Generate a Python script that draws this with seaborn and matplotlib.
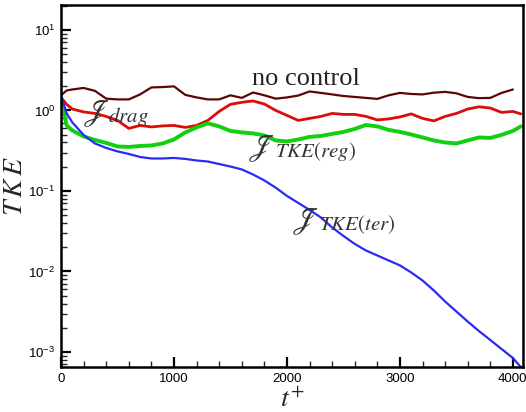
import matplotlib
matplotlib.use("Agg")
import matplotlib.pyplot as plt
import matplotlib.ticker as mticker
import numpy as np
import pandas as pd
import seaborn as sns

# time axis (wall units) for each case
t_nc = [0, 50] + list(range(100, 4001, 100))
t_ctl = [0, 50] + list(range(100, 4001, 100)) + [4070]

no_control = [1.54, 1.77, 1.82, 1.90, 1.75, 1.40, 1.37, 1.37, 1.58, 1.93, 1.95, 1.99,
              1.56, 1.45, 1.37, 1.37, 1.54, 1.43, 1.67, 1.54, 1.40, 1.45, 1.53, 1.72,
              1.65, 1.58, 1.51, 1.47, 1.43, 1.39, 1.54, 1.65, 1.60, 1.58, 1.66, 1.70,
              1.63, 1.47, 1.42, 1.43, 1.65, 1.82]
j_drag = [1.45, 1.19, 1.04, 0.958, 0.918, 0.842, 0.751, 0.598, 0.651, 0.624, 0.642,
          0.651, 0.615, 0.651, 0.751, 0.972, 1.19, 1.26, 1.31, 1.20, 1.0, 0.867, 0.751,
          0.796, 0.842, 0.918, 0.892, 0.892, 0.842, 0.762, 0.784, 0.830, 0.905, 0.796,
          0.741, 0.842, 0.918, 1.04, 1.11, 1.07, 0.944, 0.972, 0.905]
j_tke_reg = [1.40, 0.65, 0.564, 0.475, 0.430, 0.395, 0.357, 0.352, 0.362, 0.367, 0.389,
             0.436, 0.533, 0.615, 0.690, 0.633, 0.556, 0.533, 0.518, 0.489, 0.424, 0.412,
             0.436, 0.469, 0.482, 0.511, 0.541, 0.589, 0.660, 0.633, 0.573, 0.541, 0.503,
             0.462, 0.424, 0.400, 0.389, 0.424, 0.462, 0.455, 0.497, 0.556, 0.633]
j_tke_ter = [1.54, 0.918, 0.710, 0.496, 0.389, 0.342, 0.310, 0.288, 0.264, 0.253, 0.253,
             0.257, 0.250, 0.239, 0.232, 0.216, 0.201, 0.185, 0.160, 0.135, 0.110, 0.0867,
             0.0710, 0.0581, 0.0469, 0.0352, 0.0276, 0.0220, 0.0182, 0.0158, 0.0137,
             0.0119, 0.00972, 0.00773, 0.00581, 0.00424, 0.00318, 0.00239, 0.00182,
             0.00141, 0.00109, 0.000842, 0.000651]

x_ticks = [0, 1000, 2000, 3000, 4000]
y_ticks = [1e-3, 1e-2, 1e-1, 1e0, 1e1]
y_tick_labels = [r"$\mathregular{10^{-3}}$", r"$\mathregular{10^{-2}}$",
                 r"$\mathregular{10^{-1}}$", r"$\mathregular{10^{0}}$",
                 r"$\mathregular{10^{1}}$"]

sns.set_theme(style="ticks")
plt.rcParams["font.family"] = ["Liberation Sans", "DejaVu Sans"]
plt.rcParams["mathtext.fontset"] = "stix"

fig = plt.figure(figsize=(5.26, 4.12), dpi=100)
ax = fig.add_axes([0.116, 0.109, 0.878, 0.879])

series = [
    (t_nc, no_control, "#5c0606", 1.6),
    (t_ctl, j_drag, "#dd0b0b", 2.0),
    (t_ctl, j_tke_reg, "#10d010", 2.8),
    (t_ctl, j_tke_ter, "#2a2af5", 1.6),
]
for t, v, c, lw in series:
    df = pd.DataFrame({"t": t, "TKE": v})
    sns.lineplot(data=df, x="t", y="TKE", ax=ax, color=c, linewidth=lw,
                 estimator=None, sort=False)

ax.set_yscale("log")
ax.set_xlim(0, 4088)
ax.set_ylim(6.5e-4, 20.4)

ax.set_xticks(x_ticks)
ax.set_xticklabels([str(x) for x in x_ticks])
ax.xaxis.set_minor_locator(mticker.MultipleLocator(200))
ax.set_yticks(y_ticks)
ax.set_yticklabels(y_tick_labels)
ax.yaxis.set_minor_locator(mticker.LogLocator(base=10, subs=np.arange(2, 10), numticks=20))
ax.yaxis.set_minor_formatter(mticker.NullFormatter())

ax.tick_params(axis="both", which="major", direction="in", length=7, width=1.6,
               labelsize=9.5, colors="black", pad=4)
ax.tick_params(axis="both", which="minor", direction="in", length=4, width=1.0)
ax.tick_params(top=False, right=False, which="both")

for s in ax.spines.values():
    s.set_linewidth(1.8)
    s.set_color("black")
    s.set_visible(True)

ax.set_xlabel(r"$t^{+}$", fontsize=20, labelpad=2)
ax.set_ylabel(r"$T\,K\,E$", fontsize=20, labelpad=0)

ax.text(2168, 2.43, "no control", family="Liberation Serif", fontsize=19,
        color="#222222", ha="center", va="center")

# cost-functional labels: large script J followed by its subscript
labels = [
    ((195, 0.918), (415, 0.709), r"$drag$"),
    ((1655, 0.337), (1890, 0.261), r"$TKE(reg)$"),
    ((2044, 0.0418), (2280, 0.0323), r"$TKE(ter)$"),
]
for (tj, vj), (ts, vs), sub in labels:
    ax.text(tj, vj, r"$\mathscr{J}$", fontsize=22, color="#333333",
            ha="left", va="center")
    ax.text(ts, vs, sub, fontsize=15, color="#333333", ha="left", va="baseline")

fig.savefig("out.png", dpi=100)
